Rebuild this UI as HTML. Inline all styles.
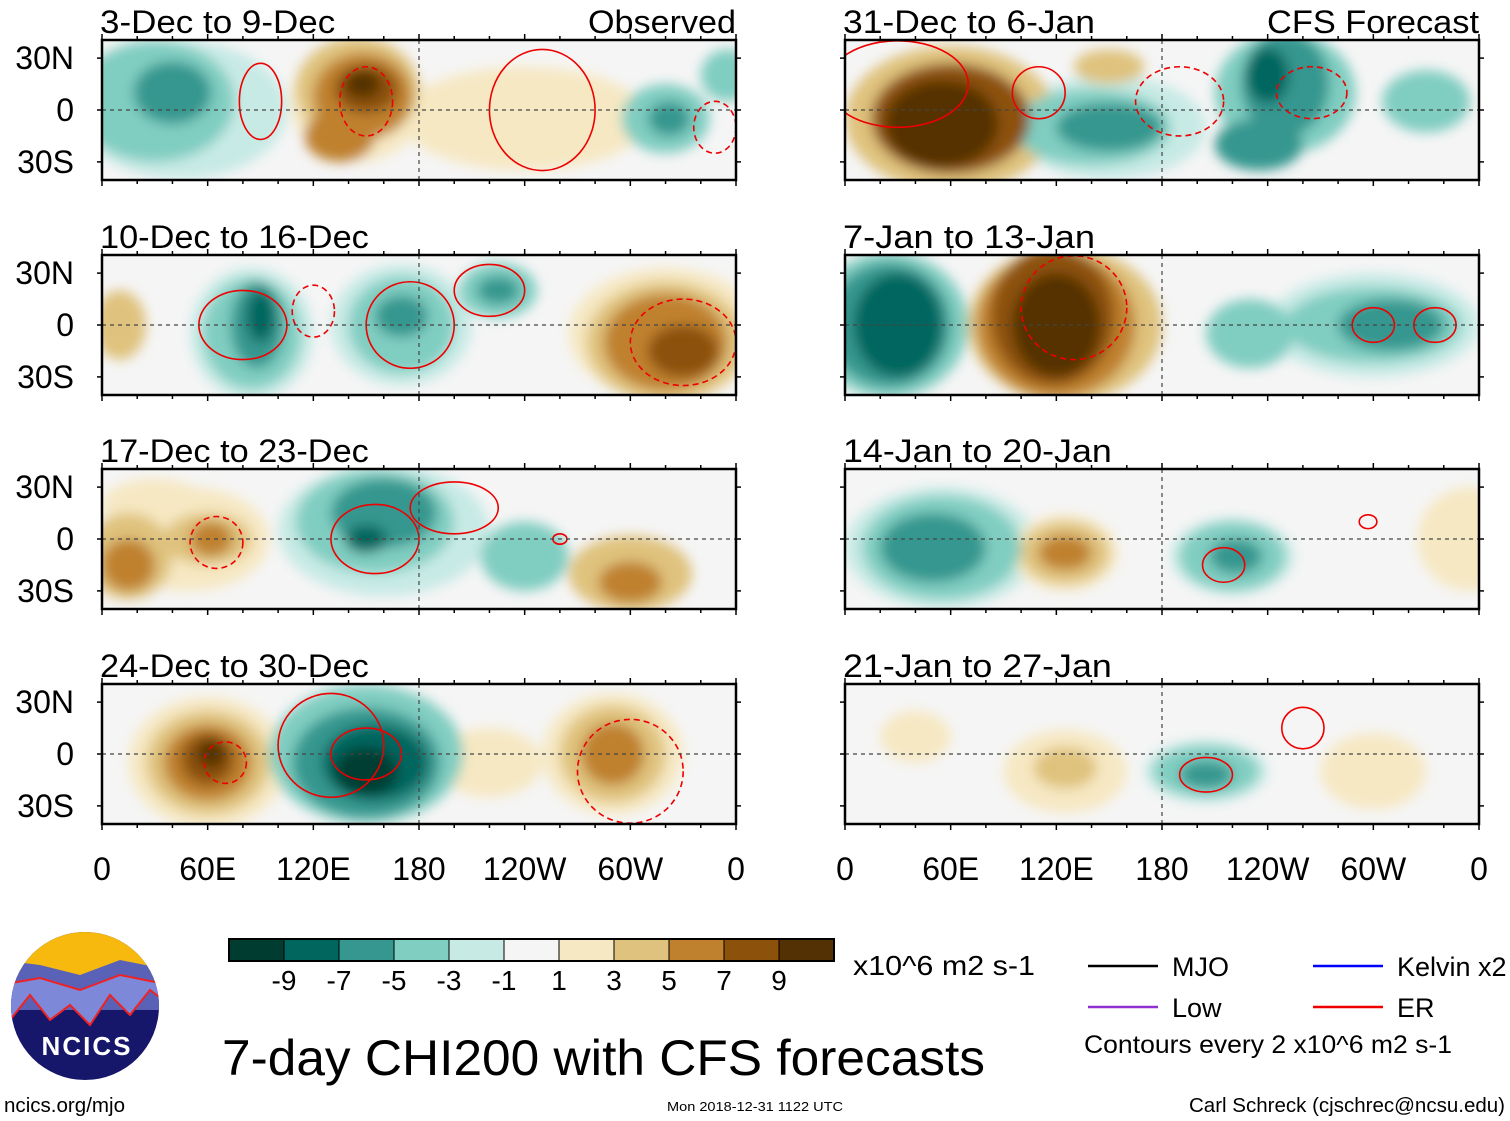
<!DOCTYPE html>
<html><head><meta charset="utf-8"><style>
html,body{margin:0;padding:0;background:#fff}
svg{display:block}
text{font-family:"Liberation Sans",sans-serif}
</style></head><body>
<svg id="root" width="1510" height="1121" viewBox="0 0 1510 1121">
<defs>
<filter id="blur" x="-20%" y="-20%" width="140%" height="140%"><feGaussianBlur stdDeviation="6"/></filter>
</defs>
<g id="panels"></g>
<g id="bottom"></g>
</svg>
<script>
// ---- data ----
const levelColors = ["#003c30","#01665e","#35978f","#80cdc1","#c7eae5","#f5f5f5","#f6e8c3","#dfc27d","#bf812d","#8c510a","#543005"];
const colorbarLabels = ["-9","-7","-5","-3","-1","1","3","5","7","9"];
const lonTicks = [0,60,120,180,240,300,360];
const lonTickLabels = ["0","60E","120E","180","120W","60W","0"];
const latTicks = [30,0,-30];
const latTickLabels = ["30N","0","30S"];
const panelTitles = ["3-Dec to 9-Dec","10-Dec to 16-Dec","17-Dec to 23-Dec","24-Dec to 30-Dec","31-Dec to 6-Jan","7-Jan to 13-Jan","14-Jan to 20-Jan","21-Jan to 27-Jan"];
// anomaly blobs per panel: [lon, lat, lonRadius, latRadius, level(-5..5)]
const blobs0 = [[45,0,60,40,-1],[30,5,45,35,-2],[40,10,22,18,-3],[145,5,38,35,1],[145,12,35,30,2],[148,8,28,25,3],[150,12,18,14,4],[148,15,10,8,5],[135,-15,20,15,3],[240,-5,70,30,1],[320,-5,25,20,-2],[322,-5,12,10,-3],[355,20,15,15,-2]];
const blobs1 = [[85,-5,35,38,-1],[85,-5,28,32,-2],[88,0,15,25,-3],[90,5,8,15,-4],[170,0,40,35,-1],[170,0,30,28,-2],[170,5,15,12,-3],[225,20,22,16,-2],[225,20,12,8,-3],[320,-5,55,38,1],[320,-10,45,35,2],[320,-10,35,28,3],[330,-15,20,15,4],[10,0,15,20,2]];
const blobs2 = [[160,5,60,38,-1],[155,10,45,30,-2],[160,15,30,20,-3],[150,0,12,8,-4],[50,0,45,30,1],[60,0,25,15,2],[62,0,12,10,3],[15,-10,25,25,2],[15,-15,15,15,3],[300,-20,35,22,2],[300,-25,18,12,3],[240,-10,25,20,-2],[30,20,30,15,1]];
const blobs3 = [[60,-5,45,38,1],[60,-5,35,30,2],[60,-5,25,22,3],[60,-3,15,15,4],[62,0,8,8,5],[150,0,55,40,-2],[150,-5,42,32,-3],[155,-5,30,22,-4],[150,-10,18,14,-5],[290,0,40,35,1],[290,0,30,28,2],[290,0,18,18,3],[220,-5,30,20,1]];
const blobs4 = [[60,-5,60,42,2],[60,-5,45,32,4],[55,-8,32,25,5],[150,-10,55,30,-1],[140,-10,45,22,-2],[150,-10,30,14,-3],[250,10,40,35,-2],[250,15,25,30,-3],[240,20,12,16,-4],[235,-20,25,15,-3],[330,5,25,18,-2],[150,25,20,10,2]];
const blobs5 = [[25,0,45,42,-2],[25,0,35,36,-3],[30,0,25,30,-4],[125,0,55,45,2],[120,0,45,42,3],[118,5,35,40,4],[120,0,25,30,5],[300,0,60,30,-1],[300,0,50,22,-2],[310,0,30,15,-3],[230,-5,25,20,-2]];
const blobs6 = [[55,-5,55,35,-1],[55,-5,45,30,-2],[50,-5,30,20,-3],[125,-8,30,22,1],[125,-8,25,18,2],[125,-8,15,10,3],[220,-10,35,22,-1],[220,-10,30,20,-2],[222,-10,15,10,-3],[355,0,30,30,1]];
const blobs7 = [[125,-10,35,24,1],[125,-8,18,12,2],[205,-10,35,18,-1],[205,-10,30,15,-2],[205,-12,15,8,-3],[40,10,20,15,1],[300,-10,30,22,1]];
const panelBlobs = [blobs0,blobs1,blobs2,blobs3,blobs4,blobs5,blobs6,blobs7];
// red contours: [lon, lat, lonRadius, latRadius, dashed(1)/solid(0)]
const contours = [
 [[90,5,12,22,0],[150,5,15,20,1],[250,0,30,35,0],[348,-10,12,15,1]],
 [[80,0,25,20,0],[120,8,12,15,1],[175,0,25,25,0],[220,20,20,15,0],[330,-10,30,25,1]],
 [[155,0,25,20,0],[65,-2,15,15,1],[200,18,25,15,0],[260,0,4,3,0]],
 [[130,5,30,30,0],[150,0,20,15,0],[70,-5,12,12,1],[300,-10,30,30,1]],
 [[30,15,40,25,0],[110,10,15,15,0],[190,5,25,20,1],[265,10,20,15,1]],
 [[130,10,30,30,1],[300,0,12,10,0],[335,0,12,10,0]],
 [[215,-15,12,10,0],[297,10,5,4,0]],
 [[260,15,12,12,0],[205,-12,15,10,0]]
];
// ---- layout ----
const NS="http://www.w3.org/2000/svg";
function mk(tag,attrs,parent){const e=document.createElementNS(NS,tag);for(const k in attrs)e.setAttribute(k,attrs[k]);parent.appendChild(e);return e;}
const colX=[102,845], rowY=[40,255,469,684], PW=634, PH=140;
const panelsG=document.getElementById('panels');
for(let p=0;p<8;p++){
  const col=p<4?0:1,row=p%4, x0=colX[col], y0=rowY[row];
  const xs=lon=>x0+lon/360*PW, ys=lat=>y0+PH/2-lat*1.73;
  const g=mk('g',{},panelsG);
  
  
  const cid='clip'+p;
  const cp=mk('clipPath',{id:cid},g); mk('rect',{x:x0,y:y0,width:PW,height:PH},cp);
  mk('rect',{x:x0,y:y0,width:PW,height:PH,fill:levelColors[5]},g);
  const bg=mk('g',{'clip-path':`url(#${cid})`},g);
  const fg=mk('g',{filter:'url(#blur)'},bg);
  const list=panelBlobs[p].slice().sort((a,b)=>Math.abs(a[4])-Math.abs(b[4]));
  list.forEach(b=>{
    const e=mk('ellipse',{cx:xs(b[0]),cy:ys(b[1]),rx:b[2]/360*PW,ry:b[3]*1.73,fill:levelColors[5+b[4]]},fg);
    
    
  });
  contours[p].forEach(c=>{
    const e=mk('ellipse',{cx:xs(c[0]),cy:ys(c[1]),rx:c[2]/360*PW,ry:c[3]*1.73,fill:'none',stroke:'#e00','stroke-width':1.6,'stroke-dasharray':c[4]?'6 4':'none'},bg);
    
    
  });
  mk('line',{x1:x0,x2:x0+PW,y1:ys(0),y2:ys(0),stroke:'#444','stroke-dasharray':'4 4','stroke-width':1.2},bg);
  mk('line',{x1:xs(180),x2:xs(180),y1:y0,y2:y0+PH,stroke:'#444','stroke-dasharray':'4 4','stroke-width':1.2},bg);
  mk('rect',{x:x0,y:y0,width:PW,height:PH,fill:'none',stroke:'#000','stroke-width':2.5},g);
  for(let l=0;l<=360;l+=20){const big=l%60===0;
    mk('line',{x1:xs(l),x2:xs(l),y1:y0+PH,y2:y0+PH+(big?6:4),stroke:'#000','stroke-width':1.5},g);
    mk('line',{x1:xs(l),x2:xs(l),y1:y0,y2:y0-(big?6:4),stroke:'#000','stroke-width':1.5},g);}
  latTicks.forEach(l=>{mk('line',{x1:x0-5,x2:x0,y1:ys(l),y2:ys(l),stroke:'#000','stroke-width':1.5},g);
    mk('line',{x1:x0+PW,x2:x0+PW+5,y1:ys(l),y2:ys(l),stroke:'#000','stroke-width':1.5},g);});
  const t=mk('text',{x:x0-2,y:y0-7,'font-size':32,textLength:panelTitles[p].length*16.8,lengthAdjust:'spacingAndGlyphs'},g);
  t.textContent=panelTitles[p];
  
  
  if(row===0){const lab=col?'CFS Forecast':'Observed';
    const r=mk('text',{x:x0+PW,y:y0-7,'font-size':32,'text-anchor':'end',textLength:col?212:148,lengthAdjust:'spacingAndGlyphs'},g);
    r.textContent=lab;
    
    }
  if(col===0){latTicks.forEach((l,i)=>{const a=mk('text',{x:74,y:ys(l)+11,'font-size':32,'text-anchor':'end'},g);a.textContent=latTickLabels[i];
    
    });}
  if(row===3){lonTicks.forEach((l,i)=>{const a=mk('text',{x:xs(l),y:880,'font-size':32,'text-anchor':'middle'},g);a.textContent=lonTickLabels[i];
    
    });}
}
// ---- bottom ----
const bt=document.getElementById('bottom');
const cb=mk('g',{},bt);


levelColors.forEach((c,i)=>mk('rect',{x:229+i*55,y:939,width:55,height:22,fill:c,stroke:'#000','stroke-width':1},cb));
mk('rect',{x:229,y:939,width:605,height:22,fill:'none',stroke:'#000','stroke-width':2},cb);
colorbarLabels.forEach((s,i)=>{const a=mk('text',{x:229+(i+1)*55,y:990,'font-size':28,'text-anchor':'middle'},cb);a.textContent=s;});
function txt(s,x,y,fs,name,anchor,len){const a=mk('text',{x:x,y:y,'font-size':fs,'text-anchor':anchor||'start'},bt);if(len){a.setAttribute('textLength',len);a.setAttribute('lengthAdjust','spacingAndGlyphs');}a.textContent=s;
  
  return a;}
txt('x10^6 m2 s-1',853,975,28,'colorbar-units',null,182);
txt('7-day CHI200 with CFS forecasts',222,1075,50,'figure-title',null,763);
txt('Contours every 2 x10^6 m2 s-1',1084,1053,25,'contour-note',null,368);
txt('ncics.org/mjo',4,1112,20,'site-url',null,121);
txt('Mon 2018-12-31 1122 UTC',667,1111,13,'timestamp',null,176);
txt('Carl Schreck (cjschrec@ncsu.edu)',1505,1112,20,'author-credit','end',316);
const leg=[['MJO','#000',1088,966],['Kelvin x2','#00f',1313,966],['Low','#9030d0',1088,1007],['ER','#e00',1313,1007]];
leg.forEach(l=>{const line=mk('line',{x1:l[2],x2:l[2]+70,y1:l[3],y2:l[3],stroke:l[1],'stroke-width':2.5},bt);
  
  
  txt(l[0],l[2]+84,l[3]+10,27,'legend-entry');});
// logo
const lg=mk('g',{},bt);


const lc=mk('clipPath',{id:'logoclip'},lg);mk('ellipse',{cx:85,cy:1006,rx:74,ry:74},lc);
const li=mk('g',{'clip-path':'url(#logoclip)'},lg);
mk('rect',{x:0,y:930,width:170,height:160,fill:'#16166a'},li);
mk('rect',{x:0,y:930,width:170,height:45,fill:'#f7b90e'},li);
mk('polygon',{points:'0,960 40,965 80,975 120,960 170,970 170,1010 0,1010',fill:'#5a62b8'},li);
mk('polygon',{points:'0,985 40,978 80,990 120,975 170,985 170,1005 150,990 130,1015 110,995 90,1025 70,1005 50,1020 30,995 10,1020 0,1010',fill:'#7d88d8',stroke:'#e22','stroke-width':2},li);
const nt=mk('text',{x:87,y:1055,'font-size':26,'font-weight':'bold','text-anchor':'middle',fill:'#fff','letter-spacing':2},lg);nt.textContent='NCICS';
</script>
</body></html>
